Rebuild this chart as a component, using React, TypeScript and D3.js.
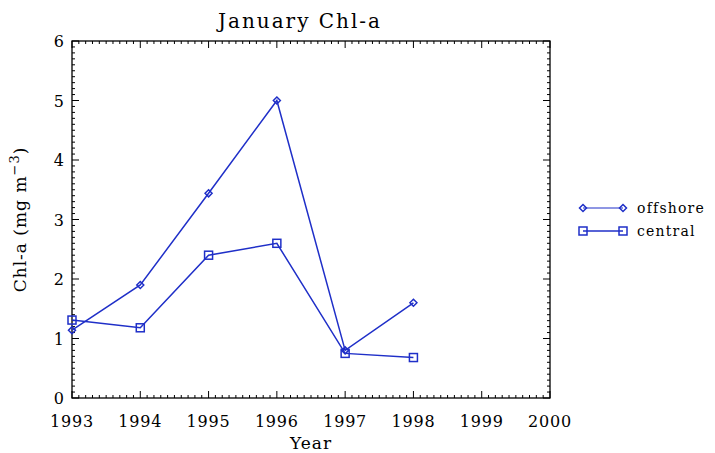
import React from "react";
import * as d3 from "d3";

const years = [1993, 1994, 1995, 1996, 1997, 1998];
const offshore = [1.14, 1.9, 3.44, 5.0, 0.8, 1.6];
const central = [1.31, 1.18, 2.4, 2.6, 0.75, 0.68];
const xTicks = [1993, 1994, 1995, 1996, 1997, 1998, 1999, 2000];
const yTicks = [0, 1, 2, 3, 4, 5, 6];
const seriesNames = ["offshore", "central"];

const W = 715;
const H = 453;
const left = 72;
const right = 550;
const top = 41;
const bottom = 398;
const blue = "#1f2fc8";
const font = "'DejaVu Serif', 'Liberation Serif', serif";

export default function App() {
  const x = d3.scaleLinear().domain([1993, 2000]).range([left, right]);
  const y = d3.scaleLinear().domain([0, 6]).range([bottom, top]);
  const line = d3
    .line<number>()
    .x((_, i) => x(years[i]))
    .y((v) => y(v));

  const xMinor = d3.range(1993, 2000.001, 0.1);
  const yMinor = d3.range(0, 6.001, 0.1);

  const diamond = (cx: number, cy: number, r = 3.5) =>
    `M${cx},${cy - r}L${cx + r},${cy}L${cx},${cy + r}L${cx - r},${cy}Z`;

  return (
    <svg width={W} height={H} style={{ position: "absolute", left: 0, top: 0, background: "#fff" }}>
      <rect x={0} y={0} width={W} height={H} fill="#fff" />
      {/* frame */}
      <rect x={left} y={top} width={right - left} height={bottom - top} fill="none" stroke="#000" strokeWidth={1.3} />
      {/* minor and major ticks on all four sides */}
      {xMinor.map((t, i) => {
        const major = Math.abs(t - Math.round(t)) < 1e-6;
        const len = major ? 7 : 3;
        return (
          <g key={"xm" + i} stroke="#000" strokeWidth={1}>
            <line x1={x(t)} x2={x(t)} y1={bottom} y2={bottom - len} />
            <line x1={x(t)} x2={x(t)} y1={top} y2={top + len} />
          </g>
        );
      })}
      {yMinor.map((t, i) => {
        const major = Math.abs(t - Math.round(t)) < 1e-6;
        const len = major ? 7 : 3;
        return (
          <g key={"ym" + i} stroke="#000" strokeWidth={1}>
            <line x1={left} x2={left + len} y1={y(t)} y2={y(t)} />
            <line x1={right} x2={right - len} y1={y(t)} y2={y(t)} />
          </g>
        );
      })}
      {xTicks.map((t) => (
        <text key={"xt" + t} x={x(t)} y={bottom + 29} textAnchor="middle" fontFamily={font} fontSize={16} letterSpacing={0.8} fill="#000">
          {t}
        </text>
      ))}
      {yTicks.map((t) => (
        <text key={"yt" + t} x={left - 8} y={y(t) + 6} textAnchor="end" fontFamily={font} fontSize={16} fill="#000">
          {t}
        </text>
      ))}
      <text x={(left + right) / 2} y={449} textAnchor="middle" fontFamily={font} fontSize={17} letterSpacing={1} fill="#000">
        Year
      </text>
      <text
        transform={`translate(26,${(top + bottom) / 2}) rotate(-90)`}
        textAnchor="middle"
        fontFamily={font}
        fontSize={17}
        letterSpacing={1}
        fill="#000"
      >
        Chl-a (mg m<tspan dy={-7} fontSize={13}>−3</tspan>
        <tspan dy={7}>)</tspan>
      </text>
      <text x={300} y={28} textAnchor="middle" fontFamily={font} fontSize={20} letterSpacing={2} fill="#000">
        January Chl-a
      </text>

      {/* offshore series */}
      <path d={line(offshore) ?? ""} fill="none" stroke={blue} strokeWidth={1.5} />
      {offshore.map((v, i) => (
        <path key={"od" + i} d={diamond(x(years[i]), y(v))} fill="none" stroke={blue} strokeWidth={1.5} />
      ))}
      {/* central series */}
      <path d={line(central) ?? ""} fill="none" stroke={blue} strokeWidth={1.5} />
      {central.map((v, i) => (
        <rect key={"cs" + i} x={x(years[i]) - 4} y={y(v) - 4} width={8} height={8} fill="none" stroke={blue} strokeWidth={1.5} />
      ))}

      {/* legend */}
      <g>
        <line x1={583} x2={623} y1={208} y2={208} stroke={blue} strokeWidth={1} />
        <path d={diamond(583, 208)} fill="none" stroke={blue} strokeWidth={1.5} />
        <path d={diamond(623, 208)} fill="none" stroke={blue} strokeWidth={1.5} />
        <text x={637} y={213} fontFamily={font} fontSize={14} letterSpacing={1.2} fill="#000">
          {seriesNames[0]}
        </text>
        <line x1={583} x2={623} y1={231} y2={231} stroke={blue} strokeWidth={1.5} />
        <rect x={579} y={227} width={8} height={8} fill="none" stroke={blue} strokeWidth={1.5} />
        <rect x={619} y={227} width={8} height={8} fill="none" stroke={blue} strokeWidth={1.5} />
        <text x={637} y={236} fontFamily={font} fontSize={14} letterSpacing={1.2} fill="#000">
          {seriesNames[1]}
        </text>
      </g>
    </svg>
  );
}
